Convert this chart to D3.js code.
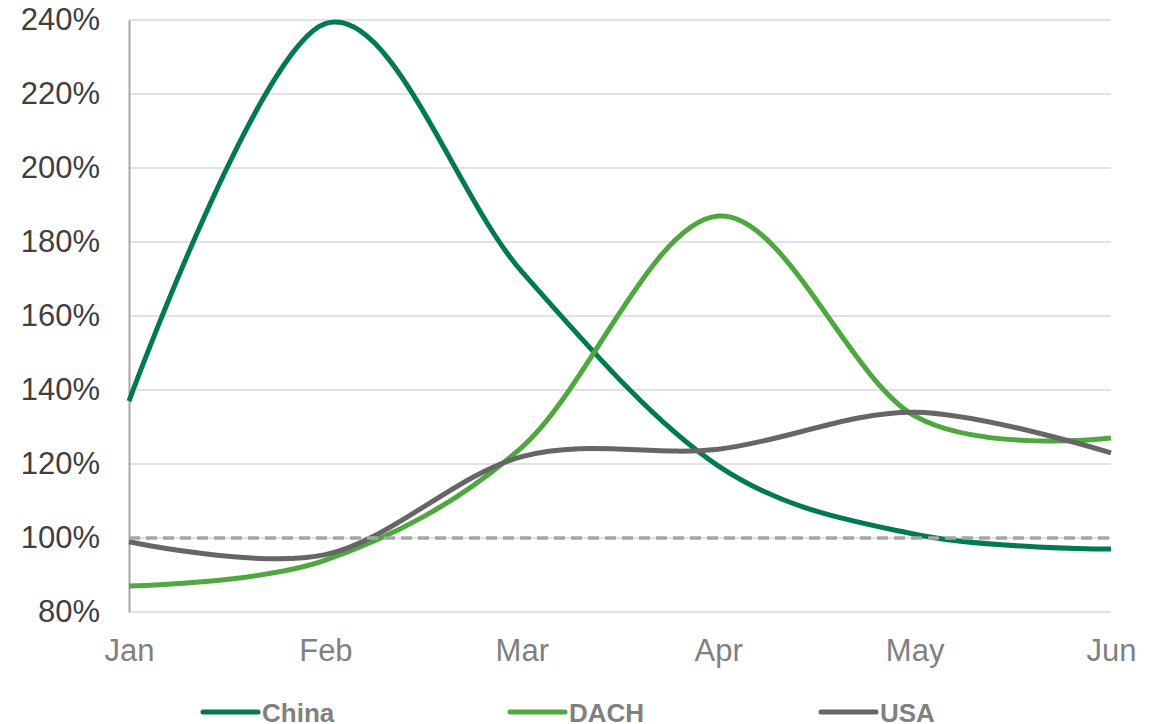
<!DOCTYPE html>
<html>
<head>
<meta charset="utf-8">
<script src="https://cdn.jsdelivr.net/npm/d3@7"></script>
<style>
  html, body { margin: 0; padding: 0; background: #fff; }
  svg { display: block; font-family: "Liberation Sans", Arial, sans-serif; }
</style>
</head>
<body>
<svg id="chart" width="1165" height="724"></svg>
<script>
const months = ["Jan", "Feb", "Mar", "Apr", "May", "Jun"];
const china = [137, 239, 172, 119.5, 101, 97];
const dach  = [87, 94, 124.5, 187, 133, 127];
const usa   = [99, 95.5, 122, 124, 134, 123];
const baseline = [100, 100, 100, 100, 100, 100];
const yTicks = [80, 100, 120, 140, 160, 180, 200, 220, 240];
const seriesNames = ["China", "DACH", "USA"];
const seriesColors = ["#007A4E", "#4EA83F", "#666666"];

(function () {
const series = [
  { name: seriesNames[0], values: china, color: seriesColors[0] },
  { name: seriesNames[1], values: dach,  color: seriesColors[1] },
  { name: seriesNames[2], values: usa,   color: seriesColors[2] }
];

const svg = d3.select("#chart");
const mLeft = 129, mRight = 1111, mTop = 20, mBottom = 612;

const x = d3.scalePoint().domain(months).range([mLeft, mRight]);
const y = d3.scaleLinear().domain([80, 240]).range([mBottom, mTop]);

// gridlines
svg.append("g").selectAll("line").data(yTicks).join("line")
  .attr("x1", mLeft).attr("x2", mRight)
  .attr("y1", d => y(d)).attr("y2", d => y(d))
  .attr("stroke", "#D9D9D9").attr("stroke-width", 1.5);

// y axis
const yAxis = d3.axisLeft(y).tickValues(yTicks).tickFormat(d => d + "%").tickSize(0).tickPadding(29);
const gy = svg.append("g").attr("transform", `translate(${mLeft},0)`).call(yAxis);
gy.select(".domain").attr("stroke", "#A6A6A6").attr("stroke-width", 2);
gy.selectAll("text").attr("font-size", 31).attr("fill", "#404040")
  .attr("font-family", "'Liberation Sans', Arial, sans-serif");

// x axis
const xAxis = d3.axisBottom(x).tickSize(0).tickPadding(27);
const gx = svg.append("g").attr("transform", `translate(0,${mBottom})`).call(xAxis);
gx.select(".domain").remove();
gx.selectAll("text").attr("font-size", 31).attr("fill", "#808080")
  .attr("font-family", "'Liberation Sans', Arial, sans-serif");

// lines
const line = d3.line()
  .x((d, i) => x(months[i]))
  .y(d => y(d))
  .curve(d3.curveCardinal.tension(0));

svg.append("g").selectAll("path").data(series).join("path")
  .attr("d", d => line(d.values))
  .attr("fill", "none")
  .attr("stroke", d => d.color)
  .attr("stroke-width", 5)
  .attr("stroke-linecap", "butt")
  .attr("stroke-linejoin", "round");

// 100% baseline
svg.append("path")
  .attr("d", d3.line().x((d, i) => x(months[i])).y(d => y(d))(baseline))
  .attr("fill", "none")
  .attr("stroke", "#A6A6A6")
  .attr("stroke-width", 3.5)
  .attr("stroke-dasharray", "11,6");

// legend
const legendX = [203, 510, 821];
const lg = svg.append("g").selectAll("g").data(series).join("g")
  .attr("transform", (d, i) => `translate(${legendX[i]},712)`);
lg.append("line").attr("x1", 0).attr("x2", 55).attr("y1", 0).attr("y2", 0)
  .attr("stroke", d => d.color).attr("stroke-width", 5).attr("stroke-linecap", "round");
lg.append("text").attr("x", 59).attr("y", 9.5)
  .attr("font-size", 26).attr("font-weight", "bold").attr("fill", "#808080")
  .text(d => d.name);
})();
</script>
</body>
</html>
